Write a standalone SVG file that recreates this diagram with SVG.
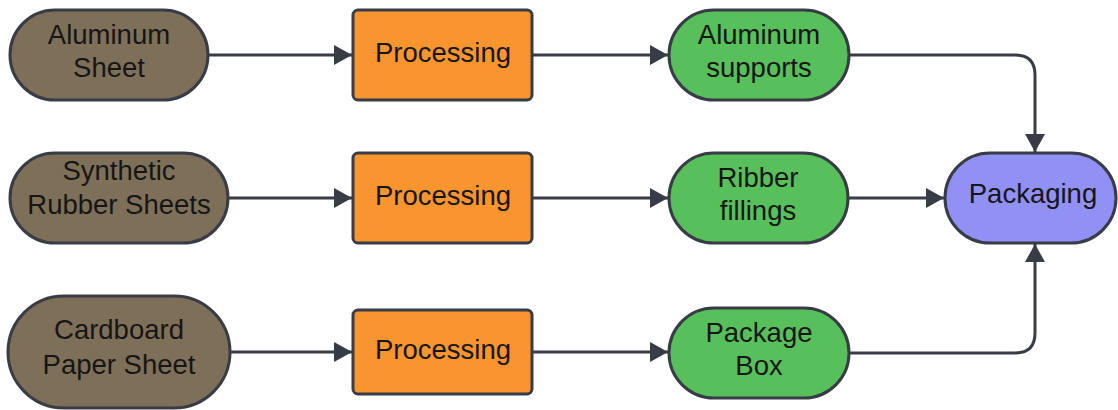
<svg xmlns="http://www.w3.org/2000/svg" width="1118" height="410" viewBox="0 0 1118 410">
<style>
.n{stroke:#383c46;stroke-width:3}
.raw{fill:#7e6f59}
.proc{fill:#f8952f}
.out{fill:#58c05a}
.pack{fill:#9090f5}
text{font-family:"Liberation Sans",Arial,sans-serif;font-size:27.5px;fill:#161616;text-anchor:middle}
.c{fill:none;stroke:#383c46;stroke-width:3}
</style>
<defs>
<marker id="ah" markerWidth="18" markerHeight="20" refX="18" refY="10" orient="auto" markerUnits="userSpaceOnUse">
<path d="M0,0 L18,10 L0,20 Z" fill="#383c46"/>
</marker>
</defs>
<rect width="1118" height="410" fill="#ffffff"/>
<g id="connectors">
<path class="c" d="M208,55 H352" marker-end="url(#ah)"/>
<path class="c" d="M532,55 H668" marker-end="url(#ah)"/>
<path class="c" d="M228,198 H352" marker-end="url(#ah)"/>
<path class="c" d="M532,198 H668" marker-end="url(#ah)"/>
<path class="c" d="M230,352 H352" marker-end="url(#ah)"/>
<path class="c" d="M532,352 H668" marker-end="url(#ah)"/>
<path class="c" d="M849,55 H1015 Q1035,55 1035,75 V152" marker-end="url(#ah)"/>
<path class="c" d="M848,198 H944" marker-end="url(#ah)"/>
<path class="c" d="M849,353 H1015 Q1035,353 1035,333 V244" marker-end="url(#ah)"/>
</g>
<g id="aluminum-sheet">
<rect class="n raw" x="10" y="10" width="198" height="90" rx="45"/>
<text x="109" y="44">Aluminum</text>
<text x="109" y="77">Sheet</text>
</g>
<g id="synthetic-rubber">
<rect class="n raw" x="10" y="153" width="218" height="90" rx="45"/>
<text x="119" y="180">Synthetic</text>
<text x="119" y="214">Rubber Sheets</text>
</g>
<g id="cardboard">
<rect class="n raw" x="8" y="296" width="222" height="112" rx="56"/>
<text x="119" y="339">Cardboard</text>
<text x="119" y="374">Paper Sheet</text>
</g>
<g id="processing-1">
<rect class="n proc" x="353" y="10" width="179" height="90" rx="5"/>
<text x="443" y="62">Processing</text>
</g>
<g id="processing-2">
<rect class="n proc" x="353" y="153" width="179" height="90" rx="5"/>
<text x="443" y="205">Processing</text>
</g>
<g id="processing-3">
<rect class="n proc" x="353" y="310" width="179" height="84" rx="5"/>
<text x="443" y="359">Processing</text>
</g>
<g id="aluminum-supports">
<rect class="n out" x="669" y="10" width="180" height="90" rx="45"/>
<text x="759" y="44">Aluminum</text>
<text x="759" y="77">supports</text>
</g>
<g id="ribber-fillings">
<rect class="n out" x="669" y="153" width="179" height="90" rx="45"/>
<text x="758" y="187">Ribber</text>
<text x="758" y="220">fillings</text>
</g>
<g id="package-box">
<rect class="n out" x="669" y="308" width="180" height="90" rx="45"/>
<text x="759" y="342">Package</text>
<text x="759" y="375">Box</text>
</g>
<g id="packaging">
<rect class="n pack" x="945" y="153" width="171" height="90" rx="45"/>
<text x="1033" y="203">Packaging</text>
</g>
</svg>
